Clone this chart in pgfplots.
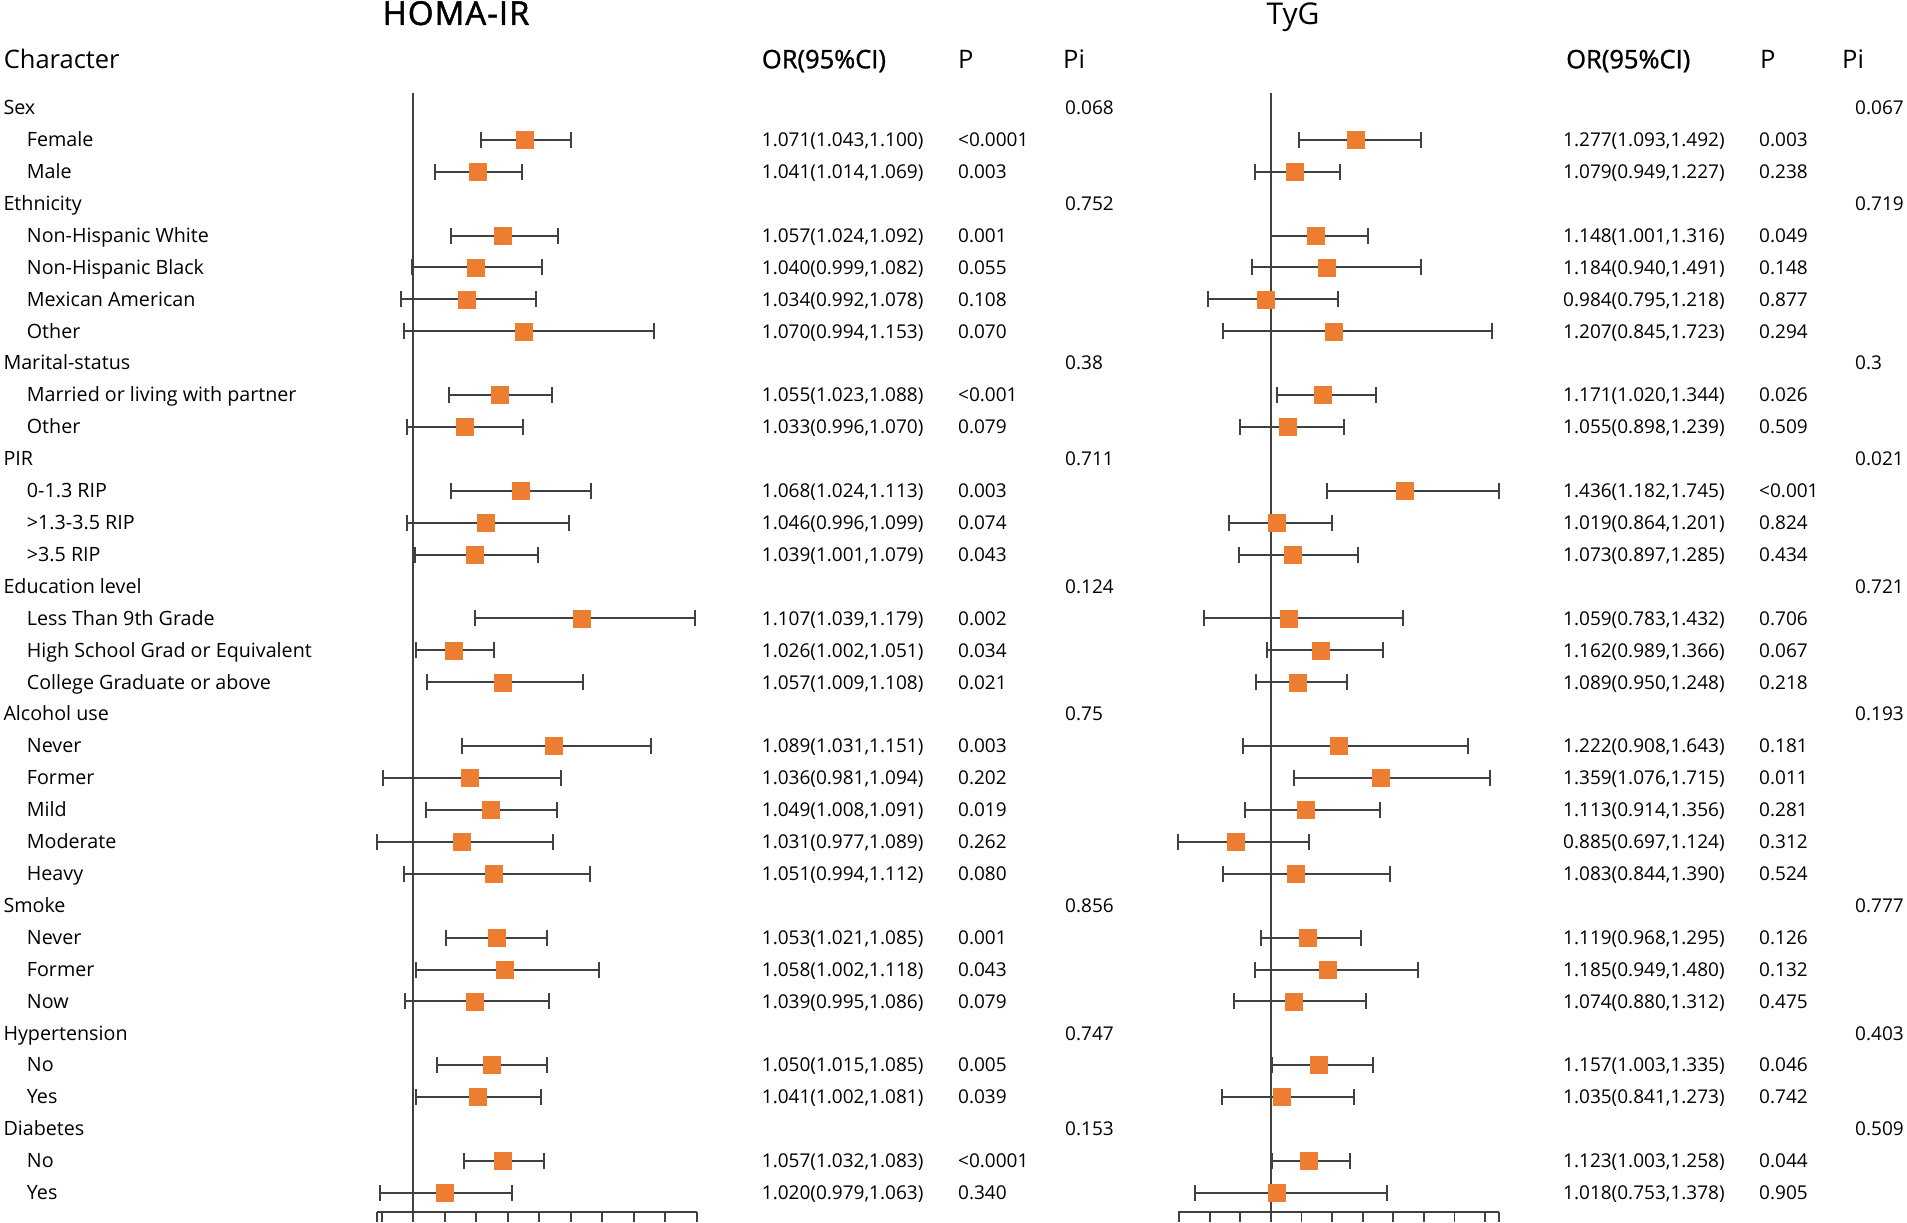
\documentclass[border=0pt]{standalone}
\usepackage{fontspec}
\setmainfont{Open Sans}
\newfontfamily\sbfont[FakeBold=1.2]{Open Sans}
\newfontfamily\ttlfont[FakeBold=1.5,LetterSpace=3]{Open Sans}
\usepackage{pgfplots}
\pgfplotsset{compat=1.18}
\usepackage{pgfplotstable}
\definecolor{lc}{RGB}{64,64,64}
\definecolor{orc}{RGB}{237,125,49}

\pgfplotstableread{
r or lo hi
2 1.071 1.043 1.100
3 1.041 1.014 1.069
5 1.057 1.024 1.092
6 1.040 0.999 1.082
7 1.034 0.992 1.078
8 1.070 0.994 1.153
10 1.055 1.023 1.088
11 1.033 0.996 1.070
13 1.068 1.024 1.113
14 1.046 0.996 1.099
15 1.039 1.001 1.079
17 1.107 1.039 1.179
18 1.026 1.002 1.051
19 1.057 1.009 1.108
21 1.089 1.031 1.151
22 1.036 0.981 1.094
23 1.049 1.008 1.091
24 1.031 0.977 1.089
25 1.051 0.994 1.112
27 1.053 1.021 1.085
28 1.058 1.002 1.118
29 1.039 0.995 1.086
31 1.050 1.015 1.085
32 1.041 1.002 1.081
34 1.057 1.032 1.083
35 1.020 0.979 1.063
}\homa

\pgfplotstableread{
r or lo hi
2 1.277 1.093 1.492
3 1.079 0.949 1.227
5 1.148 1.001 1.316
6 1.184 0.940 1.491
7 0.984 0.795 1.218
8 1.207 0.845 1.723
10 1.171 1.020 1.344
11 1.055 0.898 1.239
13 1.436 1.182 1.745
14 1.019 0.864 1.201
15 1.073 0.897 1.285
17 1.059 0.783 1.432
18 1.162 0.989 1.366
19 1.089 0.950 1.248
21 1.222 0.908 1.643
22 1.359 1.076 1.715
23 1.113 0.914 1.356
24 0.885 0.697 1.124
25 1.083 0.844 1.390
27 1.119 0.968 1.295
28 1.185 0.949 1.480
29 1.074 0.880 1.312
31 1.157 1.003 1.335
32 1.035 0.841 1.273
34 1.123 1.003 1.258
35 1.018 0.753 1.378
}\tyg

\newcommand\Y[1]{{1108.3-(#1-1)*31.91}}
\newcommand\Gl[2]{\node[lab] at (3.3,\Y{#1}) {#2};}
\newcommand\Sl[2]{\node[lab] at (26.7,\Y{#1}) {#2};}
\newcommand\Rw[5]{%
  \node[txt] at (761.7,\Y{#1}) {#2};
  \node[txt] at (958,\Y{#1}) {#3};
  \node[txt] at (1563,\Y{#1}) {#4};
  \node[txt] at (1759,\Y{#1}) {#5};}
\newcommand\Pw[3]{%
  \node[txt] at (1065,\Y{#1}) {#2};
  \node[txt] at (1855,\Y{#1}) {#3};}

\pgfplotsset{
  forest/.style={
    anchor=south west, scale only axis, height=1118.4pt,
    ymin=-35.59, ymax=-0.54,
    axis x line=bottom, axis y line=none,
    axis line style={lc, line width=2pt, -},
    xticklabels={}, ytick=\empty,
    tick align=outside, major tick length=10pt,
    every tick/.style={lc, line width=1.8pt},
    clip=false,
  },
  ebars/.style={only marks, mark=none,
    error bars/.cd, x dir=both, x explicit, error mark=|,
    error bar style={lc, line width=2pt},
    error mark options={lc, line width=2pt, mark size=8pt}},
  sq/.style={only marks, mark=square*, mark size=8.5pt,
    mark options={fill=orc, draw=orc, line width=0.5pt}},
}

\begin{document}
\begin{tikzpicture}[x=1pt,y=1pt,
  txt/.style={anchor=base west, inner sep=0pt, font=\fontsize{19}{23}\selectfont},
  lab/.style={anchor=base west, inner sep=0pt, font=\fontsize{19.7}{23}\selectfont},
  hdr/.style={anchor=base west, inner sep=0pt, font=\fontsize{25.5}{30}\selectfont}]
\path[use as bounding box] (0pt,0pt) rectangle (1907pt,1223pt);

% HOMA-IR panel
\begin{axis}[forest, at={(377pt,11.3pt)}, width=319.7pt,
  xmin=0.977, xmax=1.18,
  xtick={0.977,0.98,1,1.02,1.04,1.06,1.08,1.1,1.12,1.14,1.16,1.18}]
\addplot[lc, line width=2pt] coordinates {(1,-35.59) (1,-0.54)};
\addplot[ebars] table[x=or, y expr=-\thisrow{r},
  x error minus expr=\thisrow{or}-\thisrow{lo},
  x error plus expr=\thisrow{hi}-\thisrow{or}] {\homa};
\addplot[sq] table[x=or, y expr=-\thisrow{r}] {\homa};
\end{axis}

% TyG panel
\begin{axis}[forest, at={(1178.1pt,11.3pt)}, width=320.7pt,
  xmin=0.697, xmax=1.745,
  xtick={0.7,0.8,0.9,1,1.1,1.2,1.3,1.4,1.5,1.6,1.7,1.745}]
\addplot[lc, line width=2pt] coordinates {(1,-35.59) (1,-0.54)};
\addplot[ebars] table[x=or, y expr=-\thisrow{r},
  x error minus expr=\thisrow{or}-\thisrow{lo},
  x error plus expr=\thisrow{hi}-\thisrow{or}] {\tyg};
\addplot[sq] table[x=or, y expr=-\thisrow{r}] {\tyg};
\end{axis}

% titles and headers
\node[anchor=base, inner sep=0pt, font=\fontsize{33}{40}\ttlfont] at (456,1198) {HOMA-IR};
\node[anchor=base, inner sep=0pt, font=\fontsize{30}{36}\selectfont] at (1293,1198) {TyG};
\node[hdr] at (3.6,1154.7) {Character};
\node[hdr, font=\fontsize{25.5}{30}\sbfont] at (761.7,1154.7) {OR(95\%CI)};
\node[hdr] at (958,1154.7) {P};
\node[hdr] at (1063,1154.7) {Pi};
\node[hdr, font=\fontsize{25.5}{30}\sbfont] at (1566,1154.7) {OR(95\%CI)};
\node[hdr] at (1760,1154.7) {P};
\node[hdr] at (1842,1154.7) {Pi};

% labels
\Gl{1}{Sex}
\Sl{2}{Female}
\Sl{3}{Male}
\Gl{4}{Ethnicity}
\Sl{5}{Non-Hispanic White}
\Sl{6}{Non-Hispanic Black}
\Sl{7}{Mexican American}
\Sl{8}{Other}
\Gl{9}{Marital-status}
\Sl{10}{Married or living with partner}
\Sl{11}{Other}
\Gl{12}{PIR}
\Sl{13}{0-1.3 RIP}
\Sl{14}{>1.3-3.5 RIP}
\Sl{15}{>3.5 RIP}
\Gl{16}{Education level}
\Sl{17}{Less Than 9th Grade}
\Sl{18}{High School Grad or Equivalent}
\Sl{19}{College Graduate or above}
\Gl{20}{Alcohol use}
\Sl{21}{Never}
\Sl{22}{Former}
\Sl{23}{Mild}
\Sl{24}{Moderate}
\Sl{25}{Heavy}
\Gl{26}{Smoke}
\Sl{27}{Never}
\Sl{28}{Former}
\Sl{29}{Now}
\Gl{30}{Hypertension}
\Sl{31}{No}
\Sl{32}{Yes}
\Gl{33}{Diabetes}
\Sl{34}{No}
\Sl{35}{Yes}

% OR and P columns
\Rw{2}{1.071(1.043,1.100)}{<0.0001}{1.277(1.093,1.492)}{0.003}
\Rw{3}{1.041(1.014,1.069)}{0.003}{1.079(0.949,1.227)}{0.238}
\Rw{5}{1.057(1.024,1.092)}{0.001}{1.148(1.001,1.316)}{0.049}
\Rw{6}{1.040(0.999,1.082)}{0.055}{1.184(0.940,1.491)}{0.148}
\Rw{7}{1.034(0.992,1.078)}{0.108}{0.984(0.795,1.218)}{0.877}
\Rw{8}{1.070(0.994,1.153)}{0.070}{1.207(0.845,1.723)}{0.294}
\Rw{10}{1.055(1.023,1.088)}{<0.001}{1.171(1.020,1.344)}{0.026}
\Rw{11}{1.033(0.996,1.070)}{0.079}{1.055(0.898,1.239)}{0.509}
\Rw{13}{1.068(1.024,1.113)}{0.003}{1.436(1.182,1.745)}{<0.001}
\Rw{14}{1.046(0.996,1.099)}{0.074}{1.019(0.864,1.201)}{0.824}
\Rw{15}{1.039(1.001,1.079)}{0.043}{1.073(0.897,1.285)}{0.434}
\Rw{17}{1.107(1.039,1.179)}{0.002}{1.059(0.783,1.432)}{0.706}
\Rw{18}{1.026(1.002,1.051)}{0.034}{1.162(0.989,1.366)}{0.067}
\Rw{19}{1.057(1.009,1.108)}{0.021}{1.089(0.950,1.248)}{0.218}
\Rw{21}{1.089(1.031,1.151)}{0.003}{1.222(0.908,1.643)}{0.181}
\Rw{22}{1.036(0.981,1.094)}{0.202}{1.359(1.076,1.715)}{0.011}
\Rw{23}{1.049(1.008,1.091)}{0.019}{1.113(0.914,1.356)}{0.281}
\Rw{24}{1.031(0.977,1.089)}{0.262}{0.885(0.697,1.124)}{0.312}
\Rw{25}{1.051(0.994,1.112)}{0.080}{1.083(0.844,1.390)}{0.524}
\Rw{27}{1.053(1.021,1.085)}{0.001}{1.119(0.968,1.295)}{0.126}
\Rw{28}{1.058(1.002,1.118)}{0.043}{1.185(0.949,1.480)}{0.132}
\Rw{29}{1.039(0.995,1.086)}{0.079}{1.074(0.880,1.312)}{0.475}
\Rw{31}{1.050(1.015,1.085)}{0.005}{1.157(1.003,1.335)}{0.046}
\Rw{32}{1.041(1.002,1.081)}{0.039}{1.035(0.841,1.273)}{0.742}
\Rw{34}{1.057(1.032,1.083)}{<0.0001}{1.123(1.003,1.258)}{0.044}
\Rw{35}{1.020(0.979,1.063)}{0.340}{1.018(0.753,1.378)}{0.905}

% Pi column
\Pw{1}{0.068}{0.067}
\Pw{4}{0.752}{0.719}
\Pw{9}{0.38}{0.3}
\Pw{12}{0.711}{0.021}
\Pw{16}{0.124}{0.721}
\Pw{20}{0.75}{0.193}
\Pw{26}{0.856}{0.777}
\Pw{30}{0.747}{0.403}
\Pw{33}{0.153}{0.509}
\end{tikzpicture}
\end{document}
